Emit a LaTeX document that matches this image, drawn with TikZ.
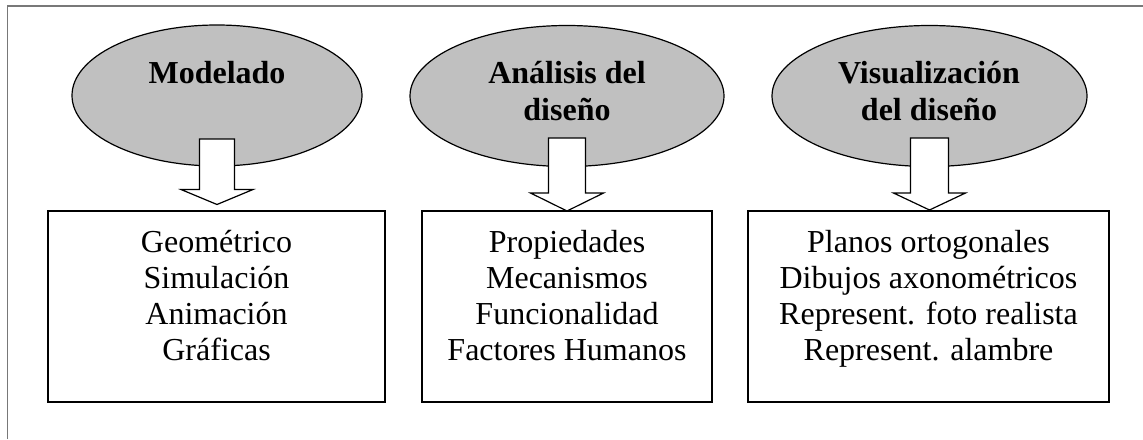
\documentclass[tikz,border=0pt]{standalone}
\usepackage{fontspec}
\setmainfont{Liberation Serif}
\usetikzlibrary{shapes.geometric,calc}
\definecolor{ellfill}{RGB}{192,192,192}
\definecolor{framegray}{RGB}{120,120,120}
\newcommand{\lines}[1]{\begin{tabular}[t]{@{}c@{}}#1\end{tabular}}
\begin{document}
\begin{tikzpicture}[x=1pt,y=-1pt,
  ell/.style={ellipse, draw=black, line width=1.2pt, fill=ellfill, inner sep=0pt, minimum width=#1, minimum height=141pt},
  listbox/.style={rectangle, draw=black, line width=1.6pt, fill=white, inner sep=0pt, minimum width=#1, minimum height=191pt},
  title/.style={anchor=base, inner sep=0pt, font=\fontsize{32}{37}\selectfont\bfseries},
  items/.style={anchor=base, inner sep=0pt, font=\fontsize{32}{36}\selectfont},
  barrow/.style={draw=black, fill=white, line width=1.2pt, line join=miter}
]
\useasboundingbox (0,0) rectangle (1143,439);
% frame
\draw[framegray, line width=1.3pt] (7.5,439) -- (7.5,6) -- (1143,6);

% ellipses
\node[ell=290pt] (e1) at (217,95.5) {};
\node[ell=314pt] (e2) at (567,96) {};
\node[ell=315pt] (e3) at (929.5,96) {};

\node[title] (h1) at (217,83) {Modelado};
\node[title] (h2) at (567,83) {\lines{Análisis del\\diseño}};
\node[title] (h3) at (929,83) {\lines{Visualización\\del diseño}};

% boxes
\node[listbox=337pt] (b1) at (216.5,306.5) {};
\node[listbox=290pt] (b2) at (567,306.5) {};
\node[listbox=361pt] (b3) at (928.5,306.5) {};

\node[items] (l1) at (216.5,252) {\lines{Geométrico\\Simulación\\Animación\\Gráficas}};
\node[items] (l2) at (567,252) {\lines{Propiedades\\Mecanismos\\Funcionalidad\\Factores Humanos}};
\node[items] (l3) at (928.5,252) {\lines{Planos ortogonales\\Dibujos axonométricos\\Represent. foto realista\\Represent. alambre}};

% block arrows
\draw[barrow] let \p1=(e1.center) in
  (\x1-17.5,139) -- (\x1+17.5,139) -- (\x1+17.5,189.5) -- (\x1+36,189.5) -- (\x1,204.5) -- (\x1-36,189.5) -- (\x1-17.5,189.5) -- cycle;
\draw[barrow] let \p1=(e2.center) in
  (\x1-18.5,138) -- (\x1+18.5,138) -- (\x1+18.5,193) -- (\x1+36.5,193) -- (\x1,211) -- (\x1-36.5,193) -- (\x1-18.5,193) -- cycle;
\draw[barrow] let \p1=(e3.center) in
  (\x1-19,138) -- (\x1+19,138) -- (\x1+19,193) -- (\x1+36,193) -- (\x1,210) -- (\x1-36,193) -- (\x1-19,193) -- cycle;
\end{tikzpicture}
\end{document}
